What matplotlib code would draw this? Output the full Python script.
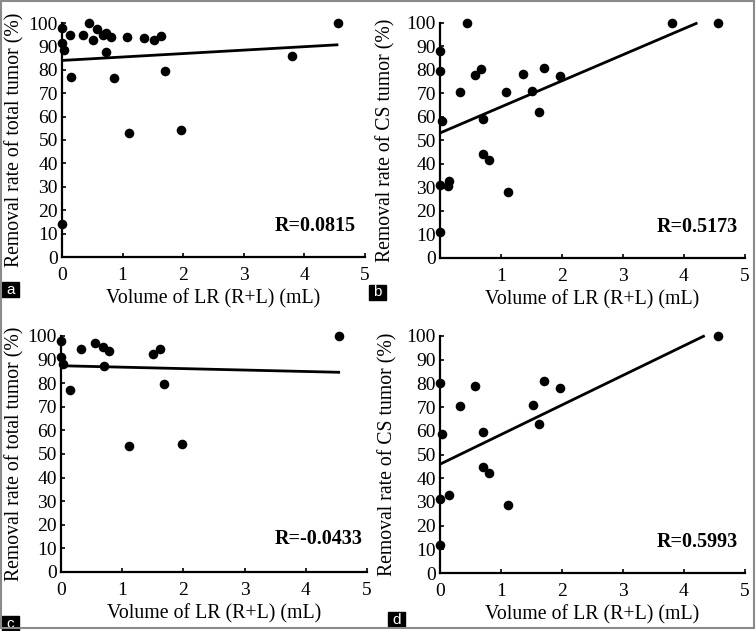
import matplotlib
matplotlib.use("Agg")
import matplotlib.pyplot as plt
import numpy as np
from matplotlib.patches import Rectangle

# ---------------- data ----------------
x_a = [0, 0, 0.04, 0, 0.13, 0.15, 0.34, 0.45, 0.51, 0.58, 0.68, 0.72, 0.72, 0.81, 0.86,
       1.08, 1.11, 1.35, 1.51, 1.63, 1.70, 1.97, 3.80, 4.55]
y_a = [98, 91.5, 88.3, 14, 95, 77, 94.7, 100, 92.6, 97.3, 94.7, 95.7, 87.5, 93.9, 76.6,
       94.2, 53.1, 93.4, 92.7, 94.4, 79.5, 54.3, 85.8, 100]

x_b = [0, 0, 0.04, 0, 0.13, 0.14, 0, 0.33, 0.44, 0.58, 0.67, 0.71, 0.71, 0.81,
       1.08, 1.11, 1.36, 1.51, 1.62, 1.70, 1.96, 3.80, 4.55]
y_b = [88, 79.4, 58.2, 30.9, 30.5, 32.6, 11, 70.6, 100, 78, 80.6, 59.3, 44.4, 41.6,
       70.6, 27.9, 78.4, 71, 62.1, 80.9, 77.3, 100, 100]

x_c = [0, 0, 0.03, 0.14, 0.32, 0.56, 0.69, 0.70, 0.79, 1.11, 1.51, 1.62, 1.69, 1.97, 4.55]
y_c = [97.9, 91.3, 88, 77.2, 94.5, 97.2, 95.5, 87.4, 93.8, 53.2, 92.5, 94.5, 79.5, 54.2, 100]

x_d = [0, 0.04, 0, 0.14, 0, 0.33, 0.57, 0.71, 0.71, 0.81, 1.11, 1.53, 1.63, 1.70, 1.97, 4.56]
y_d = [80, 58.7, 31.3, 33, 11.7, 70.5, 78.8, 59.6, 44.7, 42, 28.7, 71, 62.9, 80.9, 78.1, 100]

# regression lines: intercept, slope, end x
fit_a = (84.0, 1.47, 4.56)
fit_b = (53.2, 11.1, 4.22)
fit_c = (87.4, -0.61, 4.56)
fit_d = (45.9, 12.5, 4.34)

r_texts = ["R=0.0815", "R=0.5173", "R=-0.0433", "R=0.5993"]
panel_letters = ["a", "b", "c", "d"]
ylabels = ["Removal rate of total tumor (%)", "Removal rate of CS tumor (%)",
           "Removal rate of total tumor (%)", "Removal rate of CS tumor (%)"]
xlabel = "Volume of LR (R+L) (mL)"
yticks = list(range(0, 101, 10))
xticks_full = [0, 1, 2, 3, 4, 5]
xticks_nozero = ["", "1", "2", "3", "4", "5"]

# ---------------- figure ----------------
W, H = 756, 631
fig = plt.figure(figsize=(W / 100, H / 100), dpi=100)
plt.rcParams['font.family'] = ['Liberation Serif', 'DejaVu Serif']

def px_axes(x0, x5, y0, y100):
    return [x0 / W, 1 - y0 / H, (x5 - x0) / W, (y0 - y100) / H]

rects = [px_axes(62, 365, 257, 23), px_axes(440, 745, 258, 23),
         px_axes(61, 367, 572, 336), px_axes(440, 745, 573, 336)]

xs = [x_a, x_b, x_c, x_d]
ys = [y_a, y_b, y_c, y_d]
fits = [fit_a, fit_b, fit_c, fit_d]
xtl = [[str(t) for t in xticks_full], xticks_nozero, [str(t) for t in xticks_full],
       [str(t) for t in xticks_full]]
rpos = [(4.85, 11), (4.88, 11), (4.93, 12), (4.88, 11)]
ylab_x = [15, 386, 15, 388]
letter_boxes = [(2, 282), (369, 285), (2, 616), (388, 612)]

for i in range(4):
    ax = fig.add_axes(rects[i])
    ax.scatter(xs[i], ys[i], s=48, color="black", zorder=3, clip_on=False, linewidths=0)
    b0, b1, xe = fits[i]
    lx = np.array([0, xe])
    ax.plot(lx, b0 + b1 * lx, color="black", lw=2.0, solid_capstyle="butt", clip_on=False)
    ax.set_xlim(0, 5)
    ax.set_ylim(0, 100)
    ax.set_xticks(xticks_full)
    ax.set_xticklabels(xtl[i])
    ax.set_yticks(yticks)
    for s in ["top", "right"]:
        ax.spines[s].set_visible(False)
    for s in ["left", "bottom"]:
        ax.spines[s].set_linewidth(1.6)
    ax.tick_params(direction="in", length=3, width=1.2, labelsize=14, pad=3)
    ax.tick_params(axis="x", pad=7)
    ax.text(rpos[i][0], rpos[i][1], r_texts[i], ha="right", va="baseline",
            fontsize=14.5, fontweight="bold")
    ax.set_xlabel(xlabel, fontsize=14.3, labelpad=4)
    ax.patch.set_alpha(0)
    # y label positioned in figure pixels
    yl_center = (rects[i][1] + rects[i][3] / 2)
    fig.text(ylab_x[i] / W, yl_center, ylabels[i], rotation=90, ha="center",
             va="center", fontsize=14.2)
    # panel letter box
    bx, by = letter_boxes[i]
    fig.patches.append(Rectangle((bx / W, 1 - (by + 15) / H), 17 / W, 15 / H,
                                 transform=fig.transFigure, color="black", zorder=5))
    fig.text((bx + 8.5) / W, 1 - (by + 7.5) / H, panel_letters[i], color="white",
             ha="center", va="center", fontsize=11, family=["Liberation Sans", "DejaVu Sans"],
             zorder=6)

# outer grey frame
fig.patches.append(Rectangle((1 / W, 3 / H), 753 / W, 627 / H, transform=fig.transFigure,
                             fill=False, edgecolor="#8a8a8a", lw=1.5, zorder=10))

fig.savefig("out.png", dpi=100)
